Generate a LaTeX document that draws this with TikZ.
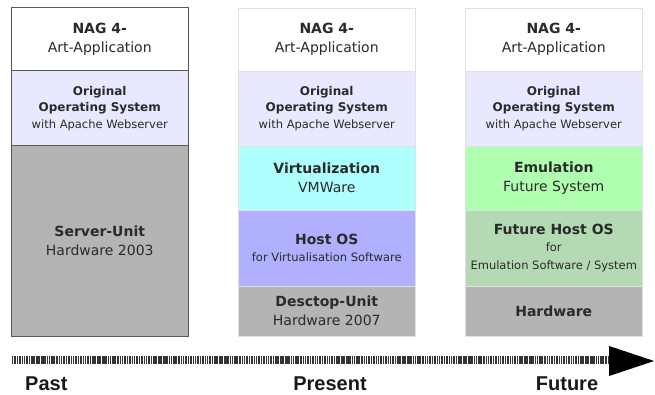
\documentclass[tikz,border=0pt]{standalone}
\usepackage{fontspec}
\setmainfont{DejaVu Sans}
\newfontfamily\timefont{Liberation Sans}
\usetikzlibrary{positioning}
\definecolor{lavande}{HTML}{E8E8FF}
\definecolor{gris}{HTML}{B4B4B4}
\definecolor{cyanclair}{HTML}{B0FFFF}
\definecolor{bleu}{HTML}{B0B0FF}
\definecolor{vertclair}{HTML}{B0FFB0}
\definecolor{vertgris}{HTML}{B4DAB4}
\definecolor{texte}{HTML}{2A2A2A}
\newcommand{\grand}[1]{{\fontsize{14}{19}\selectfont #1}}
\newcommand{\petit}[1]{{\fontsize{11.5}{16}\selectfont #1}}
\newcommand{\moyen}[1]{{\fontsize{12}{16}\selectfont #1}}
\tikzset{
  layer/.style={minimum width=177.5pt,minimum height=#1,inner sep=0pt,outer sep=0pt,
    align=center,text=texte,font=\fontsize{14}{19.5}\selectfont},
  oslayer/.style={font=\fontsize{12}{16.5}\selectfont},
  hostlayer/.style={font=\fontsize{11.5}{17.5}\selectfont},
  pastbox/.style={draw=black!65,line width=1pt},
  newbox/.style={draw=black!12,line width=.6pt},
  timelabel/.style={font=\timefont\bfseries\fontsize{20}{22}\selectfont,text=black!90,inner sep=0pt}
}
\begin{document}
\begin{tikzpicture}[x=1pt,y=-1pt]
\useasboundingbox (0,0) rectangle (655,395);

% colonne du passe
\node[layer=63pt,pastbox,fill=white,anchor=north west] (pastapp) at (11,8)
  {\grand{\textbf{NAG 4-}}\\\grand{Art-Application}};
\node[layer=75pt,oslayer,pastbox,fill=lavande,below=0pt of pastapp] (pastos)
  {\moyen{\textbf{Original}}\\\moyen{\textbf{Operating System}}\\\petit{with Apache Webserver}};
\node[layer=190pt,pastbox,fill=gris,below=0pt of pastos] (pasthw)
  {\grand{\textbf{Server-Unit}}\\\grand{Hardware 2003}};

% colonne du present
\node[layer=63pt,newbox,fill=white,anchor=north west] (presapp) at (238,8)
  {\grand{\textbf{NAG 4-}}\\\grand{Art-Application}};
\node[layer=75pt,oslayer,newbox,fill=lavande,below=0pt of presapp] (presos)
  {\moyen{\textbf{Original}}\\\moyen{\textbf{Operating System}}\\\petit{with Apache Webserver}};
\node[layer=64pt,newbox,fill=cyanclair,below=0pt of presos] (presvirt)
  {\grand{\textbf{Virtualization}}\\\grand{VMWare}};
\node[layer=76pt,hostlayer,newbox,fill=bleu,below=0pt of presvirt] (preshost)
  {\grand{\textbf{Host OS}}\\\petit{for Virtualisation Software}};
\node[layer=50pt,newbox,fill=gris,below=0pt of preshost] (preshw)
  {\grand{\textbf{Desctop-Unit}}\\\grand{Hardware 2007}};

% colonne du futur
\node[layer=63pt,newbox,fill=white,anchor=north west] (futapp) at (465,8)
  {\grand{\textbf{NAG 4-}}\\\grand{Art-Application}};
\node[layer=75pt,oslayer,newbox,fill=lavande,below=0pt of futapp] (futos)
  {\moyen{\textbf{Original}}\\\moyen{\textbf{Operating System}}\\\petit{with Apache Webserver}};
\node[layer=64pt,newbox,fill=vertclair,below=0pt of futos] (futemu)
  {\grand{\textbf{Emulation}}\\\grand{Future System}};
\node[layer=76pt,hostlayer,newbox,fill=vertgris,below=0pt of futemu] (futhost)
  {\grand{\textbf{Future Host OS}}\\\petit{for}\\\petit{Emulation Software / System}};
\node[layer=50pt,newbox,fill=gris,below=0pt of futhost] (futhw)
  {\grand{\textbf{Hardware}}};

% l'axe du temps
\coordinate (axestart) at (12,360);
\coordinate (axebase) at (610,360);
\coordinate (axetip) at (654,361);
\draw[line width=8pt,black!80,dash pattern=on 1.2pt off .7pt on 2pt off .8pt on 1.4pt off .9pt on 2.4pt off .7pt on 1.1pt off 1pt]
  (axestart) -- (axebase);
\fill[black] (609,346) -- (axetip) -- (609,376) -- cycle;

\node[timelabel,anchor=west] (past) at (25,384) {Past};
\node[timelabel] (present) at (330,384) {Present};
\node[timelabel] (future) at (567,384) {Future};

\end{tikzpicture}
\end{document}
